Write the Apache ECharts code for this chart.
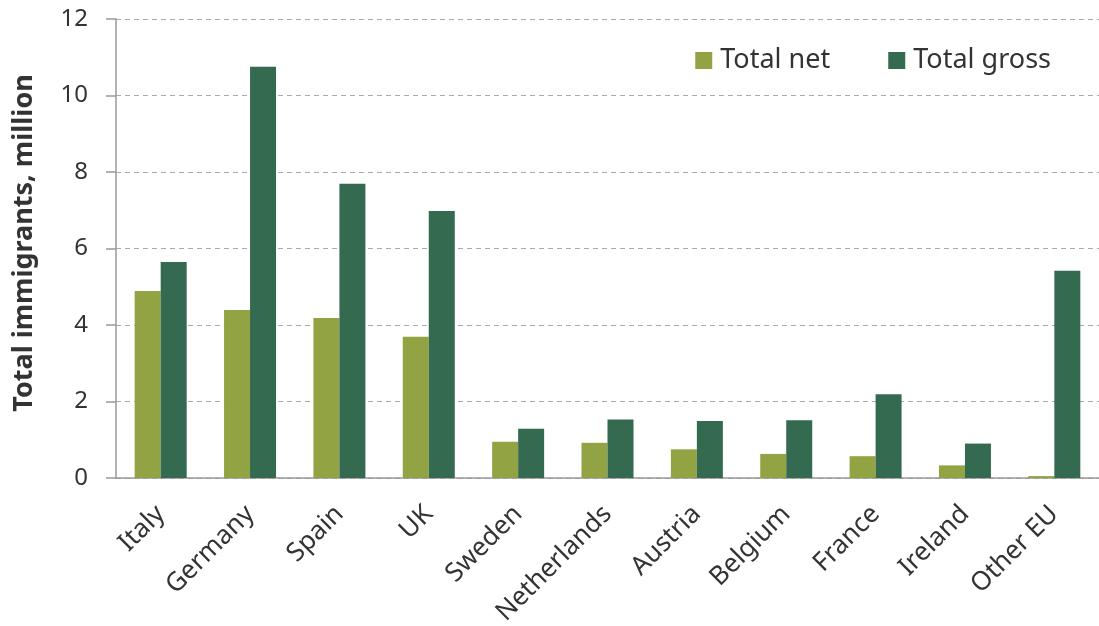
<!DOCTYPE html>
<html lang="en">
<head>
    <meta charset="utf-8">
    <script src="https://cdn.jsdelivr.net/npm/echarts@6/dist/echarts.min.js"></script>
    <title>Total immigrants</title>
    <style>
        html, body { margin: 0; padding: 0; background: #fff; }
        #main { width: 1099px; height: 626px; }
    </style>
</head>
<body>
<div id="main"></div>
<script>
    var countries = ['Italy', 'Germany', 'Spain', 'UK', 'Sweden', 'Netherlands', 'Austria', 'Belgium', 'France', 'Ireland', 'Other EU'];
    var totalNet = [4.89, 4.39, 4.18, 3.69, 0.95, 0.92, 0.75, 0.63, 0.57, 0.33, 0.05];
    var totalGross = [5.65, 10.75, 7.69, 6.98, 1.29, 1.53, 1.49, 1.51, 2.19, 0.90, 5.42];

    var myChart = echarts.init(document.getElementById('main'));

    var option = {
        animation: false,
        textStyle: { fontFamily: 'Noto Sans' },
        legend: {
            top: 42,
            right: 43,
            itemWidth: 17,
            itemHeight: 17,
            itemGap: 58,
            icon: 'rect',
            textStyle: { fontSize: 27, color: '#333', fontFamily: 'Noto Sans', padding: [0, 0, 0, 3] },
            data: ['Total net', 'Total gross']
        },
        grid: {
            left: 116,
            right: 0,
            top: 19,
            bottom: 148,
            containLabel: false,
            outerBoundsMode: 'none'
        },
        xAxis: {
            type: 'category',
            data: countries,
            axisLine: { lineStyle: { color: '#999', width: 1.5 } },
            axisTick: { length: 9, lineStyle: { color: '#999', width: 1.5 } },
            axisLabel: {
                rotate: 45,
                margin: 32,
                fontSize: 26,
                color: '#333',
                fontFamily: 'Noto Sans'
            }
        },
        yAxis: {
            type: 'value',
            min: 0,
            max: 12,
            interval: 2,
            name: 'Total immigrants, million',
            nameLocation: 'middle',
            nameGap: 78,
            nameTextStyle: { fontSize: 27, fontWeight: 'bold', color: '#333', fontFamily: 'Noto Sans', padding: [0, 0, 0, 11] },
            axisLine: { show: true, lineStyle: { color: '#999', width: 1.5 } },
            axisTick: { show: true, inside: false, length: 10, lineStyle: { color: '#999', width: 1.5 } },
            axisLabel: { fontSize: 24, color: '#333', margin: 28, fontFamily: 'Noto Sans' },
            splitLine: { lineStyle: { color: '#aaa', type: [5, 4], width: 1 } }
        },
        series: [
            {
                name: 'Total net',
                type: 'bar',
                barWidth: 26,
                barGap: '0%',
                itemStyle: { color: '#92a343' },
                data: totalNet
            },
            {
                name: 'Total gross',
                type: 'bar',
                barWidth: 26,
                itemStyle: { color: '#336a50' },
                data: totalGross
            }
        ]
    };
    myChart.setOption(option);
</script>
</body>
</html>
